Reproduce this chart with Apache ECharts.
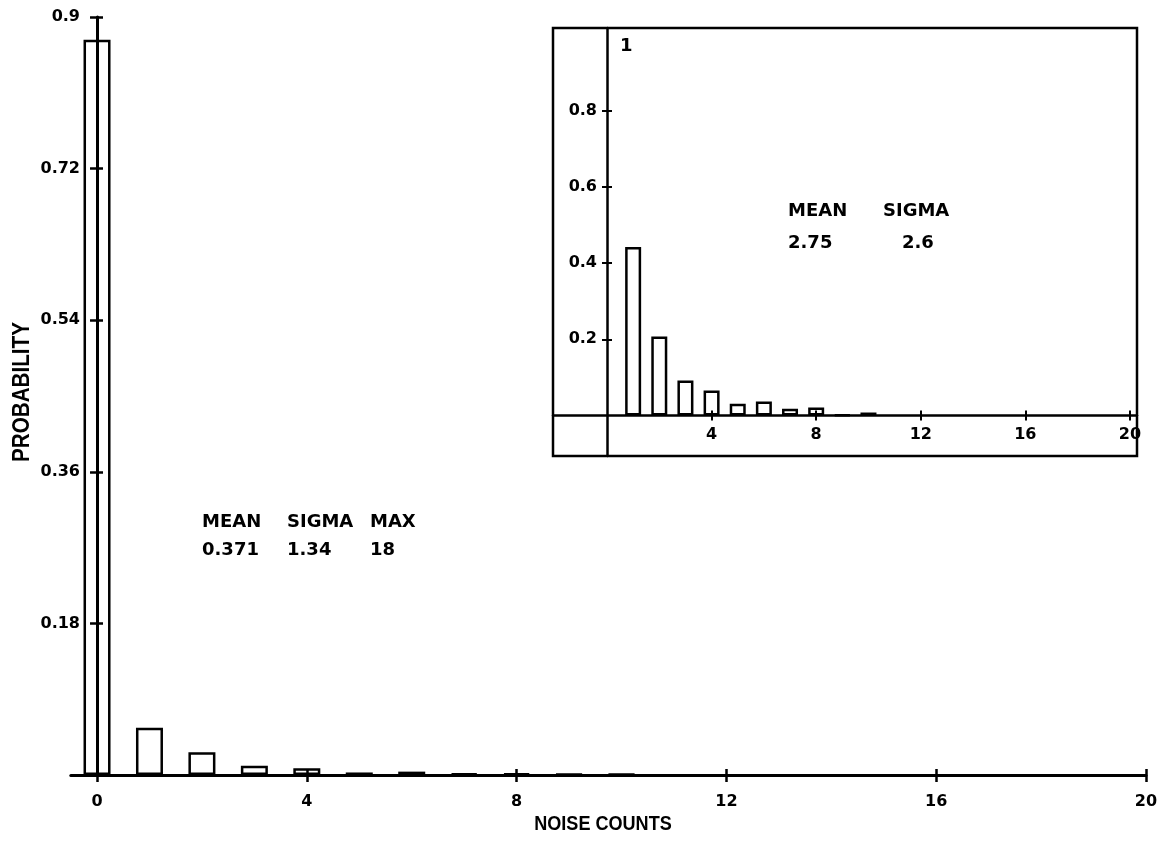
<!DOCTYPE html>
<html><head><meta charset="utf-8">
<script src="https://cdn.jsdelivr.net/npm/echarts@6/dist/echarts.min.js"></script>
<style>html,body{margin:0;padding:0;background:#fff}#c{width:1163px;height:843px}</style>
</head><body><div id="c"></div>
<script>
// ---- data ----
const mainCounts = [0, 1, 2, 3, 4, 5, 6, 7, 8, 9, 10];
const mainProb = [0.873, 0.056, 0.027, 0.011, 0.008, 0.003, 0.004, 0.002, 0.002, 0.001, 0.001];
const mainXTicks = [0, 4, 8, 12, 16, 20];
const mainYTicks = [0.18, 0.36, 0.54, 0.72, 0.9];
const mainStatNames = ['MEAN', 'SIGMA', 'MAX'];
const mainStatValues = ['0.371', '1.34', '18'];

const insetCounts = [1, 2, 3, 4, 5, 6, 7, 8, 9, 10];
const insetProb = [0.442, 0.207, 0.092, 0.066, 0.031, 0.037, 0.018, 0.021, 0.002, 0.008];
const insetXTicks = [4, 8, 12, 16, 20];
const insetYTicks = [0.2, 0.4, 0.6, 0.8];
const insetTopLabel = '1';
const insetStatNames = ['MEAN', 'SIGMA'];
const insetStatValues = ['2.75', '2.6'];

const xTitle = 'NOISE COUNTS';
const yTitle = 'PROBABILITY';

// ---- styles ----
const FONT = '"DejaVu Sans", Arial, sans-serif';
const TFONT = '"Liberation Sans", Arial, sans-serif';
const INK = '#000';

function valueAxis(opts) {
  return Object.assign({
    type: 'value', z: 5,
    splitLine: { show: false },
    axisLine: { show: true, onZero: false, lineStyle: { color: INK, width: 3 } },
    axisTick: { show: true, length: 6, lineStyle: { color: INK, width: 2.5 } },
    axisLabel: { show: true, color: INK, fontFamily: FONT, fontWeight: 'bold', fontSize: 16 }
  }, opts);
}
const lbl = (extra) => Object.assign({ color: INK, fontFamily: FONT, fontWeight: 'bold', fontSize: 16 }, extra);

const MAIN_LEFT = 70.8, MAIN_ZERO_X = 97;
const IN_LEFT = 553, IN_TOP = 28, IN_W = 584, IN_H = 428, IN_ZERO_X = 607, IN_ZERO_Y = 415.5;

const chart = echarts.init(document.getElementById('c'), null, { renderer: 'canvas' });

const option = {
  backgroundColor: '#fff',
  animation: false,
  grid: [
    { left: MAIN_LEFT, right: 17, top: 17, bottom: 68, show: false },
    { left: IN_LEFT, top: IN_TOP, width: IN_W, height: IN_H, show: true, borderColor: INK, borderWidth: 2.5, backgroundColor: 'transparent' }
  ],
  xAxis: [
    valueAxis({ gridIndex: 0, min: -0.5, max: 20, position: 'bottom',
      axisLabel: lbl({ margin: 19, customValues: mainXTicks }),
      axisTick: { show: true, length: 7, customValues: mainXTicks, lineStyle: { color: INK, width: 2.5 } } }),
    valueAxis({ gridIndex: 0, min: -0.5, max: 20, position: 'bottom',
      axisLine: { show: false },
      axisLabel: { show: false },
      axisTick: { show: true, inside: true, length: 6, customValues: mainXTicks, lineStyle: { color: INK, width: 2.5 } } }),
    valueAxis({ gridIndex: 1, min: -2.065, max: 20.27, position: 'bottom', offset: -(IN_TOP + IN_H - IN_ZERO_Y),
      axisLine: { show: true, lineStyle: { color: INK, width: 2.5 } },
      axisLabel: lbl({ margin: 11, customValues: insetXTicks }),
      axisTick: { show: true, length: 5, customValues: insetXTicks, lineStyle: { color: INK, width: 2 } } }),
    valueAxis({ gridIndex: 1, min: -2.065, max: 20.27, position: 'bottom', offset: -(IN_TOP + IN_H - IN_ZERO_Y),
      axisLine: { show: false },
      axisLabel: { show: false },
      axisTick: { show: true, inside: true, length: 5, customValues: insetXTicks, lineStyle: { color: INK, width: 2 } } })
  ],
  yAxis: [
    valueAxis({ gridIndex: 0, min: 0, max: 0.9, position: 'left', offset: -(MAIN_ZERO_X - MAIN_LEFT),
      axisLine: { show: true, lineStyle: { color: INK, width: 3 } },
      axisLabel: lbl({ margin: 17, customValues: mainYTicks }),
      axisTick: { show: true, length: 7, customValues: mainYTicks, lineStyle: { color: INK, width: 2.5 } } }),
    valueAxis({ gridIndex: 0, min: 0, max: 0.9, position: 'left', offset: -(MAIN_ZERO_X - MAIN_LEFT),
      axisLine: { show: false },
      axisLabel: { show: false },
      axisTick: { show: true, inside: true, length: 6, customValues: mainYTicks, lineStyle: { color: INK, width: 2.5 } } }),
    valueAxis({ gridIndex: 1, min: -0.106, max: 1.016, position: 'left', offset: -(IN_ZERO_X - IN_LEFT),
      axisLine: { show: true, lineStyle: { color: INK, width: 2.5 } },
      axisLabel: lbl({ margin: 10, customValues: insetYTicks }),
      axisTick: { show: true, length: 5, customValues: insetYTicks, lineStyle: { color: INK, width: 2 } } }),
    valueAxis({ gridIndex: 1, min: -0.106, max: 1.016, position: 'left', offset: -(IN_ZERO_X - IN_LEFT),
      axisLine: { show: false },
      axisLabel: { show: false },
      axisTick: { show: true, inside: true, length: 5, customValues: insetYTicks, lineStyle: { color: INK, width: 2 } } })
  ],
  series: [
    { type: 'bar', xAxisIndex: 0, yAxisIndex: 0, barWidth: 27, z: 1,
      itemStyle: { color: '#fff', borderColor: INK, borderWidth: 2.5 },
      data: mainCounts.map((c, i) => [c, mainProb[i]]) },
    { type: 'bar', xAxisIndex: 2, yAxisIndex: 2, barWidth: 16, z: 1,
      itemStyle: { color: '#fff', borderColor: INK, borderWidth: 2.5 },
      data: insetCounts.map((c, i) => [c, insetProb[i]]) }
  ],
  graphic: [
    { type: 'text', x: 22, y: 392, rotation: Math.PI / 2, scaleX: 0.86,
      style: { text: yTitle, textAlign: 'center', textVerticalAlign: 'middle', fill: INK,
        font: 'bold 24px ' + TFONT } },
    { type: 'text', x: 603, y: 824, scaleX: 0.86,
      style: { text: xTitle, textAlign: 'center', textVerticalAlign: 'middle', fill: INK,
        font: 'bold 21px ' + TFONT } },
    { type: 'text', x: 620, y: 37,
      style: { text: insetTopLabel, fill: INK, font: 'bold 18px ' + FONT } }
  ].concat(
    mainStatNames.map((t, i) => ({ type: 'text', x: [202, 287, 370][i], y: 513,
      style: { text: t, fill: INK, font: 'bold 18px ' + FONT } })),
    mainStatValues.map((t, i) => ({ type: 'text', x: [202, 287, 370][i], y: 541,
      style: { text: t, fill: INK, font: 'bold 18px ' + FONT } })),
    insetStatNames.map((t, i) => ({ type: 'text', x: [788, 883][i], y: 202,
      style: { text: t, fill: INK, font: 'bold 18px ' + FONT } })),
    insetStatValues.map((t, i) => ({ type: 'text', x: [788, 902][i], y: 234,
      style: { text: t, fill: INK, font: 'bold 18px ' + FONT } }))
  )
};
chart.setOption(option);
</script>
</body></html>
